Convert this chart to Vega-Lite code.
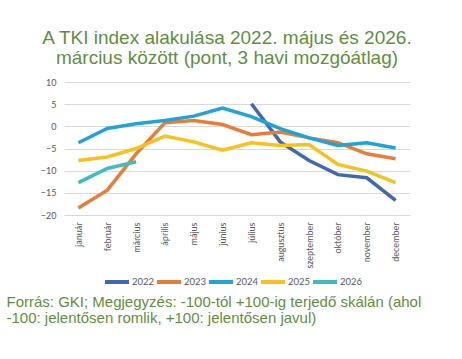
{
  "$schema": "https://vega.github.io/schema/vega-lite/v6.json",
  "autosize": "none",
  "width": 346,
  "height": 133,
  "padding": {"left": 64, "top": 82, "right": 52, "bottom": 144},
  "background": "white",
  "title": {
    "text": ["A TKI index alakulása 2022. május és 2026.", "március között (pont, 3 havi mozgóátlag)"],
    "font": "Liberation Sans",
    "fontSize": 19,
    "fontWeight": "normal",
    "color": "#5f8f3e",
    "lineHeight": 20,
    "anchor": "middle",
    "offset": 10,
    "dx": -10
  },
  "config": {
    "view": {"stroke": null},
    "axis": {"labelFont": "Lato", "labelColor": "#595959", "labelFontSize": 9}
  },
  "data": {
    "values": [
      {"month": "július", "year": "2022", "value": 5.1},
      {"month": "augusztus", "year": "2022", "value": -3.5},
      {"month": "szeptember", "year": "2022", "value": -7.7},
      {"month": "október", "year": "2022", "value": -10.9},
      {"month": "november", "year": "2022", "value": -11.6},
      {"month": "december", "year": "2022", "value": -16.7},
      {"month": "január", "year": "2023", "value": -18.4},
      {"month": "február", "year": "2023", "value": -14.4},
      {"month": "március", "year": "2023", "value": -6.2},
      {"month": "április", "year": "2023", "value": 0.8},
      {"month": "május", "year": "2023", "value": 1.3},
      {"month": "június", "year": "2023", "value": 0.4},
      {"month": "július", "year": "2023", "value": -1.9},
      {"month": "augusztus", "year": "2023", "value": -1.3},
      {"month": "szeptember", "year": "2023", "value": -2.6},
      {"month": "október", "year": "2023", "value": -3.7},
      {"month": "november", "year": "2023", "value": -6.2},
      {"month": "december", "year": "2023", "value": -7.3},
      {"month": "január", "year": "2024", "value": -3.7},
      {"month": "február", "year": "2024", "value": -0.5},
      {"month": "március", "year": "2024", "value": 0.6},
      {"month": "április", "year": "2024", "value": 1.3},
      {"month": "május", "year": "2024", "value": 2.3},
      {"month": "június", "year": "2024", "value": 4.1},
      {"month": "július", "year": "2024", "value": 2.2},
      {"month": "augusztus", "year": "2024", "value": -0.5},
      {"month": "szeptember", "year": "2024", "value": -2.6},
      {"month": "október", "year": "2024", "value": -4.3},
      {"month": "november", "year": "2024", "value": -3.7},
      {"month": "december", "year": "2024", "value": -4.9},
      {"month": "január", "year": "2025", "value": -7.7},
      {"month": "február", "year": "2025", "value": -6.9},
      {"month": "március", "year": "2025", "value": -5.0},
      {"month": "április", "year": "2025", "value": -2.2},
      {"month": "május", "year": "2025", "value": -3.5},
      {"month": "június", "year": "2025", "value": -5.4},
      {"month": "július", "year": "2025", "value": -3.7},
      {"month": "augusztus", "year": "2025", "value": -4.3},
      {"month": "szeptember", "year": "2025", "value": -4.1},
      {"month": "október", "year": "2025", "value": -8.6},
      {"month": "november", "year": "2025", "value": -10.1},
      {"month": "december", "year": "2025", "value": -12.7},
      {"month": "január", "year": "2026", "value": -12.7},
      {"month": "február", "year": "2026", "value": -9.5},
      {"month": "március", "year": "2026", "value": -8.0}
    ]
  },
  "mark": {"type": "line", "strokeWidth": 3.5},
  "encoding": {
    "x": {
      "field": "month",
      "type": "nominal",
      "scale": {
        "type": "point",
        "padding": 0.5,
        "domain": ["január", "február", "március", "április", "május", "június", "július", "augusztus", "szeptember", "október", "november", "december"]
      },
      "axis": {
        "labelAngle": -90,
        "ticks": false,
        "domain": false,
        "grid": false,
        "labelPadding": 7,
        "title": ["Forrás: GKI; Megjegyzés: -100-tól +100-ig terjedő skálán (ahol", "-100: jelentősen romlik, +100: jelentősen javul)"],
        "titleFont": "Liberation Sans",
        "titleFontSize": 15,
        "titleFontWeight": "normal",
        "titleColor": "#5f8f3e",
        "titleLineHeight": 16,
        "titleAlign": "left",
        "titleBaseline": "top",
        "titleX": -58,
        "titleY": 79
      }
    },
    "y": {
      "field": "value",
      "type": "quantitative",
      "scale": {"domain": [-20, 10], "nice": false},
      "axis": {
        "values": [-20, -15, -10, -5, 0, 5, 10],
        "ticks": false,
        "domain": false,
        "labelPadding": 8,
        "gridColor": "#d9d9d9",
        "title": null
      }
    },
    "color": {
      "field": "year",
      "type": "nominal",
      "scale": {
        "domain": ["2022", "2023", "2024", "2025", "2026"],
        "range": ["#4168b4", "#ea7d35", "#1fa3d9", "#f7c21a", "#3fbcc0"]
      },
      "legend": {
        "title": null,
        "orient": "none",
        "legendX": 39,
        "legendY": 186,
        "direction": "horizontal",
        "columns": 5,
        "symbolType": "M-1,0H1",
        "symbolSize": 576,
        "symbolStrokeWidth": 4,
        "labelFont": "Lato",
        "labelFontSize": 9.5,
        "labelColor": "#595959",
        "labelOffset": 1,
        "columnPadding": -6
      }
    }
  }
}
